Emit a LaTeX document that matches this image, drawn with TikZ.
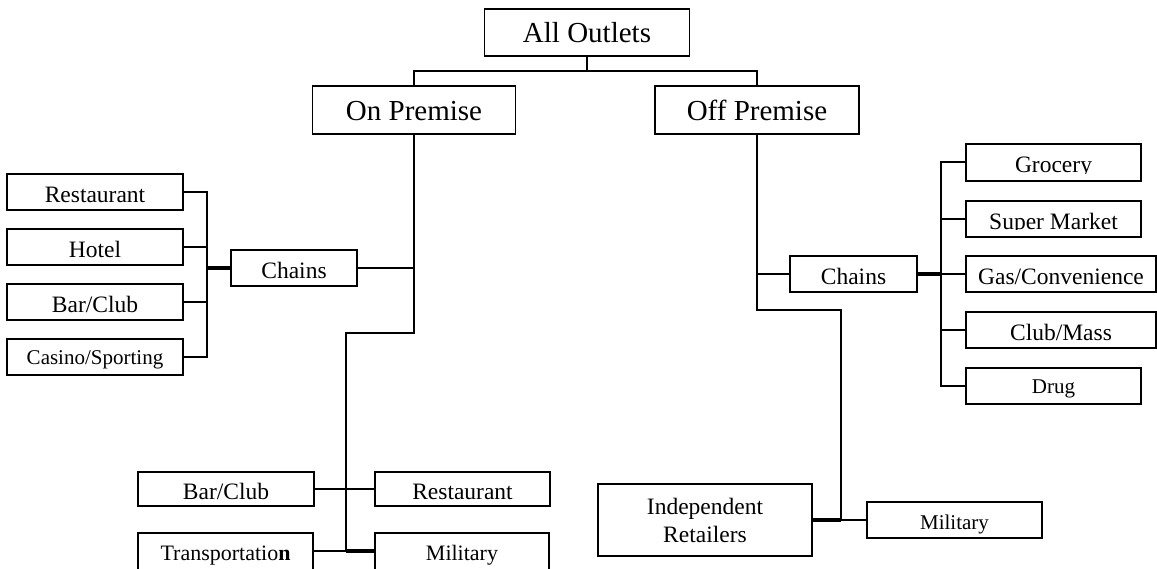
\documentclass[tikz,border=0pt]{standalone}
\usepackage{fontspec}
\setmainfont{Liberation Serif}
\begin{document}
\begin{tikzpicture}[x=1pt,y=-1pt,
  box/.style={draw, line width=1.5pt, inner sep=0pt, text depth=0pt, text height=21pt},
  big/.style={font=\fontsize{29}{33}\selectfont},
  norm/.style={font=\fontsize{23.5}{28}\selectfont},
  smalltxt/.style={font=\fontsize{21}{25}\selectfont, text height=15pt},
  midtxt/.style={font=\fontsize{22}{26}\selectfont, text height=14pt},
  conn/.style={line width=2pt},
  mainconn/.style={line width=2.5pt},
  thickconn/.style={line width=3.5pt}]
\useasboundingbox (0,0) rectangle (1157,569);

% top level
\node[box,big,minimum width=205,minimum height=47] (all) at (587,32.5) {All Outlets};
\node[box,big,minimum width=203,minimum height=48] (onp) at (414,110) {On Premise};
\node[box,big,minimum width=204,minimum height=48] (offp) at (757,110) {Off Premise};
\coordinate (j0) at (587,71);
\draw[conn] (all.south) -- (j0);
\draw[conn] (onp.north) |- (j0) -| (offp.north);

% on premise chains
\node[box,norm,minimum width=176,minimum height=36] (lrest) at (95,192) {Restaurant};
\node[box,norm,minimum width=176,minimum height=36] (lhotel) at (95,247) {Hotel};
\node[box,norm,minimum width=176,minimum height=36] (lbar) at (95,302) {Bar/Club};
\node[box,smalltxt,minimum width=176,minimum height=36] (lcas) at (95,357) {Casino/Sporting};
\node[box,norm,minimum width=126,minimum height=36] (chl) at (294,268) {Chains};
\coordinate (lb) at (207,268);
\draw[conn] (lrest.east) -| (lb);
\draw[conn] (lcas.east) -| (lb);
\draw[conn] (lhotel.east) -- (lhotel.east -| lb);
\draw[conn] (lbar.east) -- (lbar.east -| lb);
\draw[thickconn] (lb) -- (chl.west);

\coordinate (onbend) at (414,333);
\coordinate (onbot) at (346,551);
\draw[mainconn] (onp.south) -- (onbend) -| (onbot);
\draw[conn] (chl.east) -- (chl.east -| onbend);

% on premise bottom
\node[box,norm,minimum width=176,minimum height=34] (bb) at (226,489) {Bar/Club};
\node[box,norm,minimum width=175,minimum height=34] (rb) at (462.5,489) {Restaurant};
\node[box,midtxt,minimum width=175,minimum height=40] (tb) at (225.5,553) {Transportatio\textbf{n}};
\node[box,midtxt,minimum width=174,minimum height=40] (mb) at (462,553) {Military};
\draw[conn] (bb.east) -- (rb.west);
\draw[conn] (tb.east |- onbot) -- (onbot);
\draw[thickconn] (onbot) -- (mb.west |- onbot);

% off premise chains
\coordinate (offbend) at (841,310);
\coordinate (offbot) at (841,520);
\draw[mainconn] (offp.south) |- (offbend) -- (offbot);
\node[box,norm,minimum width=127,minimum height=36] (chr) at (853.5,274) {Chains};
\draw[conn] (chr.west) -- (chr.west -| offp.south);
\coordinate (rbus) at (941,274);
\draw[thickconn] (chr.east) -- (rbus);

\node[box,norm,minimum width=175,minimum height=37] (groc) at (1053.5,162.5) {Grocery};
\node[box,norm,minimum width=175,minimum height=36] (super) at (1053.5,219) {Super Market};
\node[box,norm,minimum width=190,minimum height=36] (gas) at (1061,274) {Gas/Convenience};
\node[box,norm,minimum width=190,minimum height=36] (club) at (1061,330) {Club/Mass};
\node[box,smalltxt,minimum width=175,minimum height=36] (drug) at (1053.5,386) {Drug};
\draw[conn] (groc.west) -| (rbus);
\draw[conn] (drug.west) -| (rbus);
\draw[conn] (super.west) -- (super.west -| rbus);
\draw[conn] (gas.west) -- (rbus);
\draw[conn] (club.west) -- (club.west -| rbus);

% clipped descenders inside the text boxes
\fill[white] (968,174.5) rectangle (1139,179.5);
\fill[white] (968,230.5) rectangle (1139,235.5);

% off premise bottom
\node[box,norm,align=center,text height=,text depth=,minimum width=214,minimum height=72] (indep) at (705,520) {Independent\\Retailers};
\node[box,smalltxt,minimum width=175,minimum height=36,text height=18pt] (milr) at (954.5,520) {Military};
\draw[thickconn] (indep.east) -- (offbot);
\draw[conn] (offbot) -- (milr.west);
\end{tikzpicture}
\end{document}
